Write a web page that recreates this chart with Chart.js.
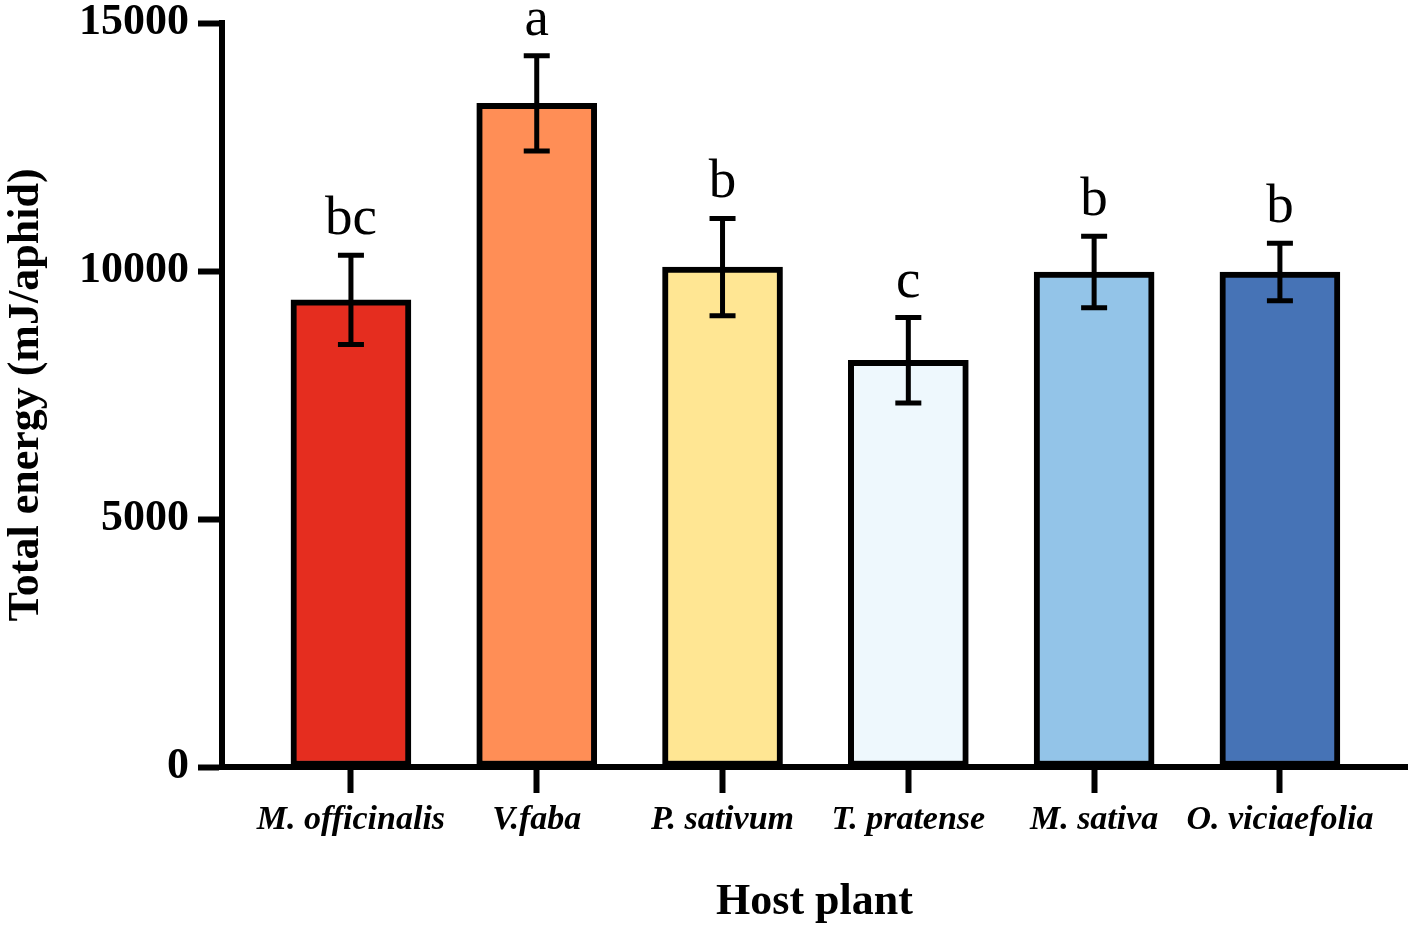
<!DOCTYPE html>
<html>
<head>
<meta charset="utf-8">
<script src="https://cdn.jsdelivr.net/npm/chart.js@4.4.1/dist/chart.umd.min.js"></script>
<style>
  html, body { margin: 0; padding: 0; background: #fff; }
  #wrap { width: 1417px; height: 933px; position: relative; }
</style>
</head>
<body>
<div id="wrap"><canvas id="energyChart"></canvas></div>
<script>
// data
var hostPlants = ['M. officinalis', 'V.faba', 'P. sativum', 'T. pratense', 'M. sativa', 'O. viciaefolia'];
var meanEnergy = [9420, 13380, 10080, 8200, 9980, 9980];
var errEnergy = [900, 960, 980, 860, 720, 580];
var sigLetters = ['bc', 'a', 'b', 'c', 'b', 'b'];
var barColors = ['#E52D1F', '#FF8E56', '#FFE693', '#EEF8FD', '#93C4E8', '#4673B6'];
var yTicks = [0, 5000, 10000, 15000];

var serif = '"Liberation Serif", "Times New Roman", serif';

// error bars + significance letters
var extrasPlugin = {
  id: 'extras',
  afterDatasetsDraw: function (chart) {
    var ctx = chart.ctx;
    var xs = chart.scales.x, ys = chart.scales.y;
    ctx.save();
    ctx.strokeStyle = '#000';
    ctx.lineWidth = 5;
    ctx.lineCap = 'butt';
    meanEnergy.forEach(function (m, i) {
      var x = xs.getPixelForValue(i);
      var hi = ys.getPixelForValue(m + errEnergy[i]);
      var lo = ys.getPixelForValue(m - errEnergy[i]);
      ctx.beginPath();
      ctx.moveTo(x, hi); ctx.lineTo(x, lo);
      ctx.moveTo(x - 13, hi); ctx.lineTo(x + 13, hi);
      ctx.moveTo(x - 13, lo); ctx.lineTo(x + 13, lo);
      ctx.stroke();
    });
    ctx.fillStyle = '#000';
    ctx.font = '55px ' + serif;
    ctx.textAlign = 'center';
    ctx.textBaseline = 'alphabetic';
    sigLetters.forEach(function (t, i) {
      var x = xs.getPixelForValue(i);
      var y = ys.getPixelForValue(meanEnergy[i] + errEnergy[i]) - 21;
      ctx.fillText(t, x, y);
    });
    ctx.restore();
  }
};

var ctx = document.getElementById('energyChart').getContext('2d');
var energyChart = new Chart(ctx, {
  type: 'bar',
  data: {
    datasets: [{
      data: meanEnergy.map(function (v, i) { return { x: i, y: v }; }),
      backgroundColor: barColors,
      borderColor: '#000',
      borderWidth: 6,
      borderSkipped: false,
      barThickness: 120
    }]
  },
  options: {
    responsive: true,
    maintainAspectRatio: false,
    animation: false,
    layout: { padding: { top: 23, right: 10, left: 0, bottom: 0 } },
    plugins: { legend: { display: false }, tooltip: { enabled: false } },
    scales: {
      x: {
        type: 'linear',
        min: -0.694,
        max: 5.684,
        offset: false,
        afterFit: function (s) { s.height = 166; },
        afterBuildTicks: function (s) {
          s.ticks = hostPlants.map(function (c, i) { return { value: i }; });
        },
        grid: {
          offset: false,
          drawOnChartArea: false,
          drawTicks: true,
          tickLength: 26,
          tickWidth: 6,
          tickColor: '#000'
        },
        border: { display: true, color: '#000', width: 6 },
        ticks: {
          autoSkip: false,
          maxRotation: 0,
          minRotation: 0,
          padding: 7,
          color: '#000',
          font: { family: serif, size: 34, style: 'italic', weight: 'bold' },
          callback: function (v) { return hostPlants[v]; }
        },
        title: {
          display: true,
          text: 'Host plant',
          color: '#000',
          padding: { top: 0, bottom: 4 },
          font: { family: serif, size: 44, weight: 'bold' }
        }
      },
      y: {
        min: 0,
        max: 15000,
        afterFit: function (s) { s.width = 222; s.paddingTop = 0; s.paddingBottom = 0; },
        afterBuildTicks: function (s) {
          s.ticks = yTicks.map(function (v) { return { value: v }; });
        },
        grid: {
          drawOnChartArea: false,
          drawTicks: true,
          tickLength: 24,
          tickWidth: 6,
          tickColor: '#000'
        },
        border: { display: true, color: '#000', width: 6 },
        ticks: {
          padding: 9,
          color: '#000',
          font: { family: serif, size: 44, weight: 'bold', lineHeight: 0.5 },
          callback: function (v) { return String(v); }
        },
        title: {
          display: true,
          text: 'Total energy (mJ/aphid)',
          color: '#000',
          padding: 0,
          font: { family: serif, size: 44, weight: 'bold' }
        }
      }
    }
  },
  plugins: [extrasPlugin]
});
</script>
</body>
</html>
